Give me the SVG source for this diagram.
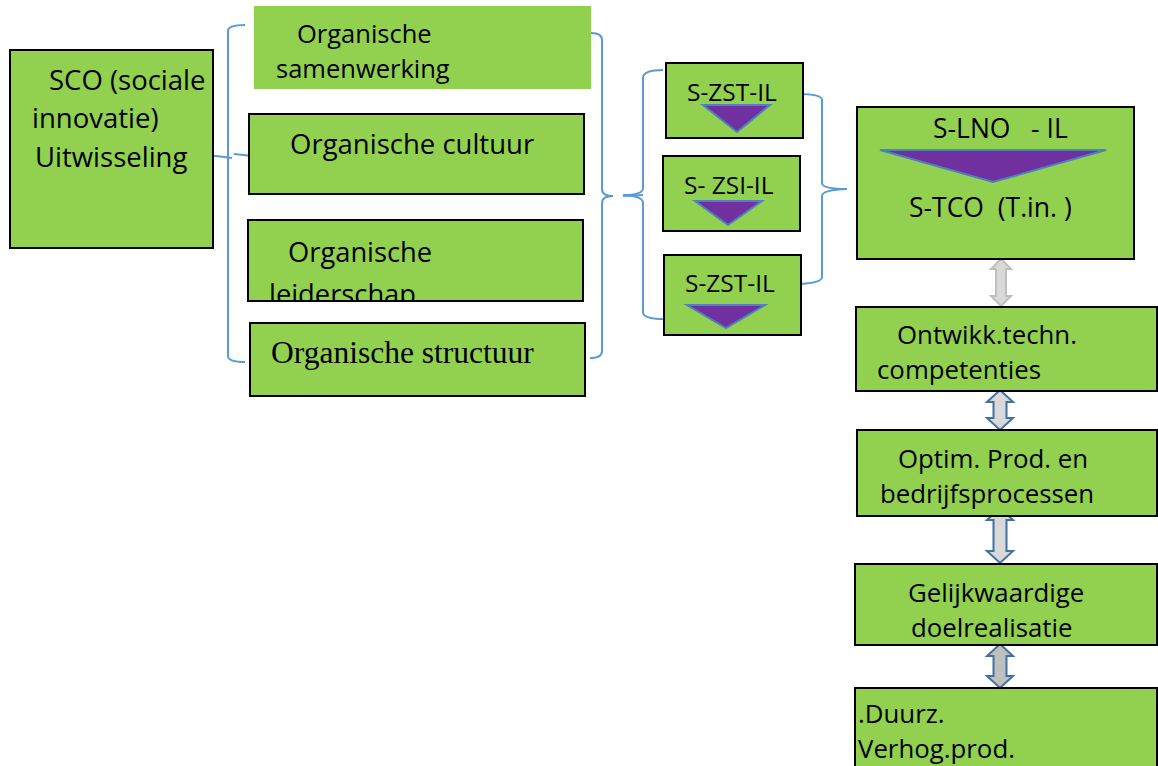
<svg xmlns="http://www.w3.org/2000/svg" width="1158" height="766" viewBox="0 0 1158 766">
  <style>
    .box { fill: #92D050; stroke: #000; stroke-width: 2; }
    .plain { fill: #92D050; stroke: none; }
    .t { font-family: "Open Sans", "Liberation Sans", sans-serif; fill: #000; }
    .serif { font-family: "Liberation Serif", "Times New Roman", serif; fill: #000; }
    .tri { fill: #7030A0; stroke: #4F81BD; stroke-width: 2; stroke-linejoin: miter; }
    .brace { fill: none; stroke: #5B9BD5; stroke-width: 2; }
    .dbl { fill: #D9D9D9; stroke: #41719C; stroke-width: 2; }
    .dbl-light { fill: #D9D9D9; stroke: #BFBFBF; stroke-width: 2; }
    .dbl-dark { fill: #BFBFBF; stroke: #41719C; stroke-width: 2; }
    .low { font-size: 25.8px; }
  </style>
  <defs>
    <clipPath id="clipLeider">
      <rect x="248" y="220" width="335" height="81"/>
    </clipPath>
  </defs>
  <rect width="1158" height="766" fill="#fff"/>

  <!-- connectors: braces and double arrows -->
  <g id="connectors">
    <path class="brace" d="M245,25 Q228,25 228,31 V356 Q228,362 245,362"/>
    <line class="brace" x1="208" y1="155" x2="232" y2="158"/>
    <line class="brace" x1="234" y1="154" x2="253" y2="156"/>
    <path class="brace" d="M591,33 Q602,33 602,40 V189 Q602,196 613,196 M613,196 Q602,196 602,203 V351 Q602,358 590,358"/>
    <line class="brace" x1="623" y1="196" x2="643" y2="195"/>
    <path class="brace" d="M663,70 Q643,70 643,78 V188 Q643,195 623,195 Q643,196 643,203 V312 Q643,319 664,319"/>
    <path class="brace" d="M798,94 Q822,94 822,100 V183 Q822,189 847,189 Q822,190 822,196 V277 Q822,283 798,284"/>

    <path class="dbl-light" d="M1001,259 L1011,269 L1006,269 L1006,296 L1011,296 L1001,306 L991,296 L996,296 L996,269 L991,269 Z"/>
    <path class="dbl" d="M1000,390 L1013,402 L1006.5,402 L1006.5,418 L1013,418 L1000,430 L987,418 L993.5,418 L993.5,402 L987,402 Z"/>
    <path class="dbl" d="M1000,508 L1013,520 L1006.5,520 L1006.5,551 L1013,551 L1000,563 L987,551 L993.5,551 L993.5,520 L987,520 Z"/>
    <path class="dbl-dark" d="M1000,644 L1013,656 L1006.5,656 L1006.5,676 L1013,676 L1000,688 L987,676 L993.5,676 L993.5,656 L987,656 Z"/>
  </g>

  <g id="sco">
    <rect class="box" x="10" y="50" width="203" height="198"/>
    <text class="t" font-size="27.5" x="49" y="90">SCO (sociale</text>
    <text class="t" font-size="27.5" x="32" y="128">innovatie)</text>
    <text class="t" font-size="27.5" x="35" y="167">Uitwisseling</text>
  </g>

  <g id="org-samenwerking">
    <rect class="plain" x="254" y="6" width="337" height="83"/>
    <text class="t" font-size="25.5" x="297" y="43">Organische</text>
    <text class="t" font-size="25.5" x="276" y="78">samenwerking</text>
  </g>

  <g id="org-cultuur">
    <rect class="box" x="249" y="114" width="335" height="80"/>
    <text class="t" font-size="27.5" x="290" y="154">Organische cultuur</text>
  </g>

  <g id="org-leiderschap">
    <rect class="plain" x="248" y="220" width="335" height="81"/>
    <g clip-path="url(#clipLeider)">
      <text class="t" font-size="27.3" x="288" y="262">Organische</text>
      <text class="t" font-size="27.3" x="269" y="304">leiderschap</text>
    </g>
    <rect x="248" y="220" width="335" height="81" fill="none" stroke="#000" stroke-width="2"/>
  </g>

  <g id="org-structuur">
    <rect class="box" x="250" y="323" width="335" height="73"/>
    <text class="serif" font-size="31.5" x="271" y="363">Organische structuur</text>
  </g>

  <g id="s-zst-il-1">
    <rect class="box" x="666" y="63" width="137" height="75"/>
    <text class="t" font-size="24.5" x="687" y="101">S-ZST-IL</text>
    <polygon class="tri" points="703,105 770,105 737,132"/>
  </g>

  <g id="s-zsi-il">
    <rect class="box" x="663" y="156" width="137" height="75"/>
    <text class="t" font-size="24.5" x="684" y="194">S- ZSI-IL</text>
    <polygon class="tri" points="695,201 762,201 728,225"/>
  </g>

  <g id="s-zst-il-2">
    <rect class="box" x="664" y="255" width="137" height="80"/>
    <text class="t" font-size="24.5" x="685" y="292">S-ZST-IL</text>
    <polygon class="tri" points="687,305 765,305 726,328"/>
  </g>

  <g id="s-lno-il">
    <rect class="box" x="857" y="107" width="277" height="152"/>
    <text class="t" font-size="26.5" x="933" y="138" xml:space="preserve">S-LNO   - IL</text>
    <polygon class="tri" points="880,150 1106,150 993,182"/>
    <text class="t" font-size="26.5" x="909" y="217" xml:space="preserve">S-TCO  (T.in. )</text>
  </g>

  <g id="ontwikk">
    <rect class="box" x="856" y="307" width="301" height="84"/>
    <text class="t low" x="897" y="344">Ontwikk.techn.</text>
    <text class="t low" x="877" y="379">competenties</text>
  </g>

  <g id="optim">
    <rect class="box" x="857" y="430" width="300" height="86"/>
    <text class="t low" x="898" y="468">Optim. Prod. en</text>
    <text class="t low" x="880" y="503">bedrijfsprocessen</text>
  </g>

  <g id="gelijkwaardig">
    <rect class="box" x="855" y="564" width="302" height="81"/>
    <text class="t low" x="908" y="602">Gelijkwaardige</text>
    <text class="t low" x="911" y="637">doelrealisatie</text>
  </g>

  <g id="duurz">
    <rect class="box" x="855" y="688" width="302" height="90"/>
    <text class="t low" x="858" y="723">.Duurz.</text>
    <text class="t low" x="858" y="758">Verhog.prod.</text>
  </g>
</svg>
